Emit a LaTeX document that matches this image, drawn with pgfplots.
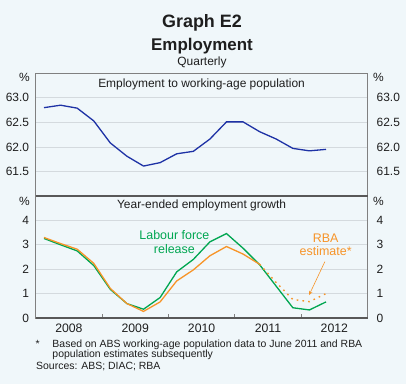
\documentclass[border=0pt]{standalone}
\usepackage{pgfplots}
\pgfplotsset{compat=1.18}
\usepackage{fontspec}
\setmainfont{Liberation Sans}
\usetikzlibrary{arrows.meta}
\definecolor{bg}{RGB}{240,247,250}
\definecolor{gridc}{RGB}{212,218,222}
\definecolor{framec}{RGB}{128,128,128}
\definecolor{frameD}{RGB}{88,88,88}
\definecolor{eblue}{RGB}{30,50,165}
\definecolor{egreen}{RGB}{0,166,81}
\definecolor{eorange}{RGB}{247,148,40}
\definecolor{txt}{RGB}{30,30,30}

\pgfplotsset{
  panel/.style={
    scale only axis, width=331.8bp, xmin=-0.5, xmax=19.5,
    axis line style={draw=framec, line width=0.8bp},
    ymajorgrids, grid style={draw=gridc, line width=0.8bp},
    tick label style={font=\fontsize{12}{12}\selectfont, text=txt},
    /pgf/number format/assume math mode=true,
    major tick length=0pt, clip=false,
  },
  leftlab/.style={yticklabel style={anchor=east, inner sep=0pt, xshift=-6.4bp}},
  rightax/.style={
    scale only axis, width=331.8bp, xmin=-0.5, xmax=19.5,
    hide x axis, axis y line*=right, y axis line style={draw=none},
    major tick length=0pt, yticklabel pos=right,
    tick label style={font=\fontsize{12}{12}\selectfont, text=txt},
    /pgf/number format/assume math mode=true,
    yticklabel style={anchor=west, inner sep=0pt, xshift=9bp},
  },
}

\begin{document}
\begin{tikzpicture}[x=1bp,y=1bp]
\fill[bg] (0,0) rectangle (406,384);
\path[use as bounding box] (0,0) rectangle (406,384);

% titles
\node[anchor=base, text=txt, font=\bfseries\fontsize{18}{18}\selectfont] at (202,356.3) {Graph E2};
\node[anchor=base, text=txt, font=\bfseries\fontsize{17}{17}\selectfont] at (202,333.3) {Employment};
\node[anchor=base, text=txt, font=\fontsize{12}{12}\selectfont] at (202,318.3) {Quarterly};

% ---------- top panel ----------
\begin{axis}[panel, leftlab, at={(35.7bp,188bp)}, anchor=south west, height=122.7bp,
  ymin=61, ymax=63.5, ytick={61.5,62,62.5,63}, xtick=\empty,
  yticklabel style={/pgf/number format/.cd, fixed, fixed zerofill, precision=1}]
\addplot[eblue, line width=1.3bp] coordinates {
 (0,62.80) (1,62.85) (2,62.79) (3,62.53) (4,62.08) (5,61.81) (6,61.61) (7,61.68)
 (8,61.86) (9,61.91) (10,62.16) (11,62.51) (12,62.51) (13,62.31) (14,62.16)
 (15,61.97) (16,61.92) (17,61.95)};
\node[anchor=base, text=txt, font=\fontsize{12}{12}\selectfont] at (rel axis cs:0.5,1) [yshift=-14bp] {Employment to working-age population};
\node[anchor=base east, inner sep=0pt, text=txt, font=\fontsize{12}{12}\selectfont] at (rel axis cs:0,1) [xshift=-5.7bp, yshift=-8.4bp] {\%};
\node[anchor=base west, inner sep=0pt, text=txt, font=\fontsize{12}{12}\selectfont] at (rel axis cs:1,1) [xshift=5.5bp, yshift=-8.4bp] {\%};
\end{axis}
\begin{axis}[rightax, at={(35.7bp,188bp)}, anchor=south west, height=122.7bp,
  ymin=61, ymax=63.5, ytick={61.5,62,62.5,63},
  yticklabel style={/pgf/number format/.cd, fixed, fixed zerofill, precision=1}]
\end{axis}

% ---------- bottom panel ----------
\begin{axis}[panel, leftlab, at={(35.7bp,66bp)}, anchor=south west, height=122bp,
  ymin=0, ymax=5, ytick={0,1,2,3,4},
  xtick={1.5,5.5,9.5,13.5,17.5}, xticklabels={2008,2009,2010,2011,2012},
  xticklabel style={anchor=base, inner sep=0pt, yshift=-14.3bp, font=\fontsize{12.3}{12}\selectfont},
  extra x ticks={3.5,7.5,11.5,15.5}, extra x tick labels={},
  extra x tick style={major tick length=4bp, tick style={draw=framec, line width=0.8bp}},
  xtick pos=left]
\addplot[egreen, line width=1.3bp] coordinates {
 (0,3.26) (1,3.00) (2,2.75) (3,2.15) (4,1.17) (5,0.59) (6,0.36) (7,0.84)
 (8,1.89) (9,2.40) (10,3.12) (11,3.46) (12,2.86) (13,2.18) (14,1.30)
 (15,0.42) (16,0.33) (17,0.66)};
\addplot[eorange, line width=1.3bp] coordinates {
 (0,3.30) (1,3.05) (2,2.82) (3,2.24) (4,1.21) (5,0.59) (6,0.27) (7,0.66)
 (8,1.52) (9,1.97) (10,2.55) (11,2.93) (12,2.62) (13,2.20)};
\addplot[eorange, line width=1.4bp, dash pattern=on 1.6bp off 4.2bp] coordinates {
 (13,2.20) (14,1.45) (15,0.76) (16,0.67) (17,1.00)};
\draw[frameD, line width=1.6bp] (rel axis cs:0,0) -- (rel axis cs:1,0);
\draw[frameD, line width=1.6bp] (rel axis cs:0,1) -- (rel axis cs:1,1);
\draw[eorange, line width=0.6bp, -{Stealth[length=4bp,width=3.5bp]}] (axis cs:16.93,2.31) -- (axis cs:15.98,0.94);
\node[anchor=base, text=egreen, font=\fontsize{12.5}{12.5}\selectfont] at (axis cs:7.86,3.20) {Labour force};
\node[anchor=base, text=egreen, font=\fontsize{12.5}{12.5}\selectfont] at (axis cs:7.86,2.65) {release};
\node[anchor=base, text=eorange, font=\fontsize{12.5}{12.5}\selectfont] at (axis cs:16.98,3.10) {RBA};
\node[anchor=base, text=eorange, font=\fontsize{12.5}{12.5}\selectfont] at (axis cs:16.98,2.55) {estimate*};
\node[anchor=base, text=txt, font=\fontsize{12}{12}\selectfont] at (rel axis cs:0.5,1) [yshift=-12.3bp] {Year-ended employment growth};
\node[anchor=base east, inner sep=0pt, text=txt, font=\fontsize{12}{12}\selectfont] at (rel axis cs:0,1) [xshift=-5.7bp, yshift=-9bp] {\%};
\node[anchor=base west, inner sep=0pt, text=txt, font=\fontsize{12}{12}\selectfont] at (rel axis cs:1,1) [xshift=5.5bp, yshift=-9bp] {\%};
\end{axis}
\begin{axis}[rightax, at={(35.7bp,66bp)}, anchor=south west, height=122bp,
  ymin=0, ymax=5, ytick={0,1,2,3,4}]
\end{axis}

% footnotes
\node[anchor=base west, inner sep=0pt, text=txt, font=\fontsize{10.5}{10.5}\selectfont] at (35.5,36.7) {*};
\node[anchor=base west, inner sep=0pt, text=txt, font=\fontsize{10.5}{10.5}\selectfont] at (52.3,36.7) {Based on ABS working-age population data to June 2011 and RBA};
\node[anchor=base west, inner sep=0pt, text=txt, font=\fontsize{10.5}{10.5}\selectfont] at (52.3,26.7) {population estimates subsequently};
\node[anchor=base west, inner sep=0pt, text=txt, font=\fontsize{10.5}{10.5}\selectfont] at (36,14.7) {Sources: ABS; DIAC; RBA};
\end{tikzpicture}
\end{document}
